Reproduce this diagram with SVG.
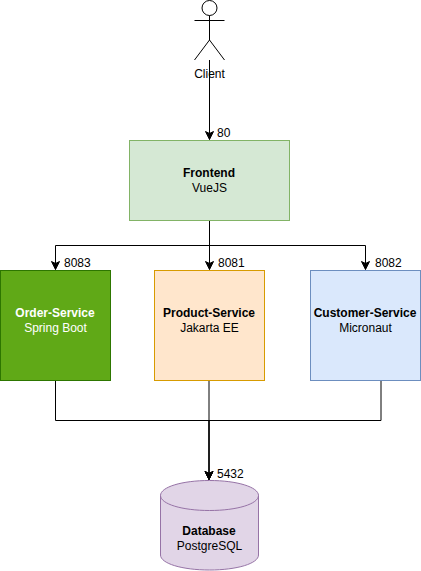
<svg xmlns="http://www.w3.org/2000/svg" width="421" height="571" viewBox="0 0 421 571">
<defs>
<marker id="arrow" markerUnits="userSpaceOnUse" markerWidth="10" markerHeight="10" refX="9" refY="5" orient="auto"><path d="M1 1 L9 5 L1 9 L3 5 Z" fill="#000" stroke="#000"/></marker>
</defs>
<style>
text{font-family:"Liberation Sans",Arial,Helvetica,sans-serif;font-size:12px;fill:#000}
.c{text-anchor:middle}
.b{font-weight:bold}
.w{fill:#fff}
.line{fill:none;stroke:#000;stroke-width:1}
.arr{marker-end:url(#arrow)}
</style>
<g id="connectors">
<path class="line arr" d="M209.5 60V139.5"/>
<path class="line arr" d="M209.5 220.5V245.5H55.5V269.5"/>
<path class="line arr" d="M209.5 220.5V269.5"/>
<path class="line arr" d="M209.5 220.5V245.5H365.5V269.5"/>
<path class="line arr" d="M209 380.5V479.5"/>
<path class="line arr" d="M55.5 380.5V420.5H209V479.5"/>
<path class="line arr" d="M381 380.5V420.5H209V479.5"/>
<text x="217" y="137">80</text>
<text x="64" y="267">8083</text>
<text x="218" y="267">8081</text>
<text x="375" y="267">8082</text>
<text x="217" y="478">5432</text>
</g>
<g id="client">
<circle class="line" cx="209.5" cy="8" r="7.5"/>
<path class="line" d="M209.5 15.5V40M194.5 20.5H224.5M209.5 40L194.5 60M209.5 40L224.5 60"/>
<text class="c" x="209.5" y="78">Client</text>
</g>
<g id="frontend">
<rect x="129.5" y="140.5" width="160" height="80" fill="#d5e8d4" stroke="#82b366"/>
<text class="c b" x="209" y="177">Frontend</text>
<text class="c" x="209.5" y="192">VueJS</text>
</g>
<g id="order-service">
<rect x="0.5" y="270.5" width="110" height="110" fill="#60a917" stroke="#2d7600"/>
<text class="c b w" x="55" y="317">Order-Service</text>
<text class="c w" x="55.5" y="332">Spring Boot</text>
</g>
<g id="product-service">
<rect x="154.5" y="270.5" width="110" height="110" fill="#ffe6cc" stroke="#d79b00"/>
<text class="c b" x="209" y="317">Product-Service</text>
<text class="c" x="209.5" y="332">Jakarta EE</text>
</g>
<g id="customer-service">
<rect x="310.5" y="270.5" width="110" height="110" fill="#dae8fc" stroke="#6c8ebf"/>
<text class="c b" x="365" y="317">Customer-Service</text>
<text class="c" x="365.5" y="332">Micronaut</text>
</g>
<g id="database">
<path d="M160.5 495.5C160.5 487 182 480.5 209.5 480.5C237 480.5 258.5 487 258.5 495.5V555C258.5 563.5 237 570 209.5 570C182 570 160.5 563.5 160.5 555Z" fill="#e1d5e7" stroke="#9673a6"/>
<path d="M160.5 495.5C160.5 504 182 510.5 209.5 510.5C237 510.5 258.5 504 258.5 495.5" fill="none" stroke="#9673a6"/>
<text class="c b" x="209" y="535">Database</text>
<text class="c" x="209.5" y="550">PostgreSQL</text>
</g>
</svg>
